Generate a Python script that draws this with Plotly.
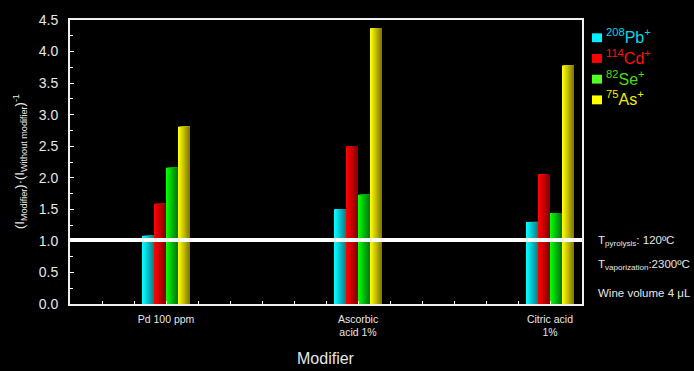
import plotly.graph_objects as go

# Signal ratio (with modifier / without modifier) per isotope and modifier
modifiers = ["Pd 100 ppm", "Ascorbic<br>acid 1%", "Citric acid<br>1%"]
isotopes = ["<sup>208</sup>Pb<sup>+</sup>", "<sup>114</sup>Cd<sup>+</sup>",
            "<sup>82</sup>Se<sup>+</sup>", "<sup>75</sup>As<sup>+</sup>"]
pb208 = [1.08, 1.50, 1.30]
cd114 = [1.59, 2.50, 2.06]
se82 = [2.16, 1.73, 1.44]
as75 = [2.81, 4.37, 3.78]
series = [pb208, cd114, se82, as75]
reference_level = 1.015

# bright (left edge) and shaded (right edge) colour of each bar
bright = [(0, 255, 255), (255, 0, 0), (0, 255, 0), (255, 255, 0)]
shade = [(10, 130, 145), (135, 0, 0), (0, 118, 20), (130, 120, 0)]
legend_marker = ["#00f0ff", "#ff0000", "#55ff22", "#ffff00"]
legend_text = ["#00d8e8", "#ff1010", "#44dd11", "#eeee00"]

FONT = "Liberation Sans, Arial, sans-serif"
GREY = "#e6e6e6"

# plot-area geometry in pixels
L, R, T, B = 70, 582, 16, 304
PW, PH = R - L, B - T


def px_x(x):
    return (x - L) / PW


def px_y(y):
    return (B - y) / PH


xpos = list(range(len(modifiers)))
bar_w = 0.0625
strips = 12

fig = go.Figure()
for i, vals in enumerate(series):
    left = -2 * bar_w + i * bar_w
    for k in range(strips):
        t = k / (strips - 1)
        c = tuple(round(bright[i][j] + (shade[i][j] - bright[i][j]) * t) for j in range(3))
        off = left + bar_w * k / strips
        fig.add_trace(go.Bar(
            x=xpos, y=vals,
            offset=off, width=left + bar_w - off,
            marker=dict(color="rgb(%d,%d,%d)" % c, line=dict(width=0)),
            name=isotopes[i], showlegend=False, hoverinfo="skip",
        ))

fig.add_shape(type="line", xref="paper", yref="y", x0=0, x1=1,
              y0=reference_level, y1=reference_level,
              line=dict(color="white", width=4))

# legend: coloured squares with isotope labels
for i, name in enumerate(isotopes):
    cy = 34 + 21 * i
    fig.add_shape(type="rect", xref="paper", yref="paper",
                  x0=px_x(592), x1=px_x(602), y0=px_y(cy - 4.5), y1=px_y(cy + 4.5),
                  fillcolor=legend_marker[i], line=dict(width=0))
    fig.add_annotation(xref="paper", yref="paper", x=px_x(604), y=px_y(cy - 1.5),
                       xanchor="left", yanchor="middle", showarrow=False,
                       text=name, font=dict(size=16, family=FONT, color=legend_text[i]))

axis_font = dict(family=FONT, color=GREY)
fig.update_layout(
    width=694, height=371,
    paper_bgcolor="black", plot_bgcolor="black",
    margin=dict(l=L, r=694 - R, t=T, b=371 - B),
    barmode="overlay", showlegend=False,
    font=dict(family=FONT, color=GREY),
    xaxis=dict(range=[-0.5, 2.5 - 2 / 6], tickvals=xpos, ticktext=modifiers,
               tickfont=dict(size=10.5, **axis_font), ticks="inside", ticklen=3,
               tickcolor="white", tickwidth=1, ticklabelstandoff=4,
               minor=dict(tick0=-0.5, dtick=1 / 6, ticks="inside", ticklen=3,
                          tickcolor="white", tickwidth=1),
               showline=True, linecolor="#f0f0f0", linewidth=2, mirror=True,
               showgrid=False, zeroline=False, fixedrange=True),
    yaxis=dict(range=[0, 4.5], dtick=0.5, tickformat=".1f",
               tickfont=dict(size=14, **axis_font), ticks="inside", ticklen=4,
               tickcolor="white", tickwidth=1, ticklabelstandoff=7,
               minor=dict(dtick=0.25, ticks="inside", ticklen=3,
                          tickcolor="white", tickwidth=1),
               showline=True, linecolor="#f0f0f0", linewidth=2, mirror=True,
               showgrid=False, zeroline=False, fixedrange=True),
)

fig.add_annotation(xref="paper", yref="paper", x=0.5, y=px_y(359),
                   xanchor="center", yanchor="middle",
                   text="Modifier", showarrow=False,
                   font=dict(size=16, **axis_font))
fig.add_annotation(xref="paper", yref="paper", x=px_x(20), y=0.5,
                   xanchor="center", yanchor="middle",
                   textangle=-90, showarrow=False,
                   text="(I<sub>Modifier</sub>)·(I<sub>Without modifier</sub>)<sup>-1</sup>",
                   font=dict(size=13, **axis_font))

notes = ["T<sub>pyrolysis</sub>: 120ºC", "T<sub>vaporization</sub>:2300ºC", "Wine volume 4 μL"]
note_y = [240, 264, 293]
for txt, py in zip(notes, note_y):
    fig.add_annotation(xref="paper", yref="paper", x=px_x(596),
                       y=px_y(py), xanchor="left", yanchor="middle",
                       text=txt, showarrow=False, font=dict(size=11.5, **axis_font))

fig.write_html("out.html")
